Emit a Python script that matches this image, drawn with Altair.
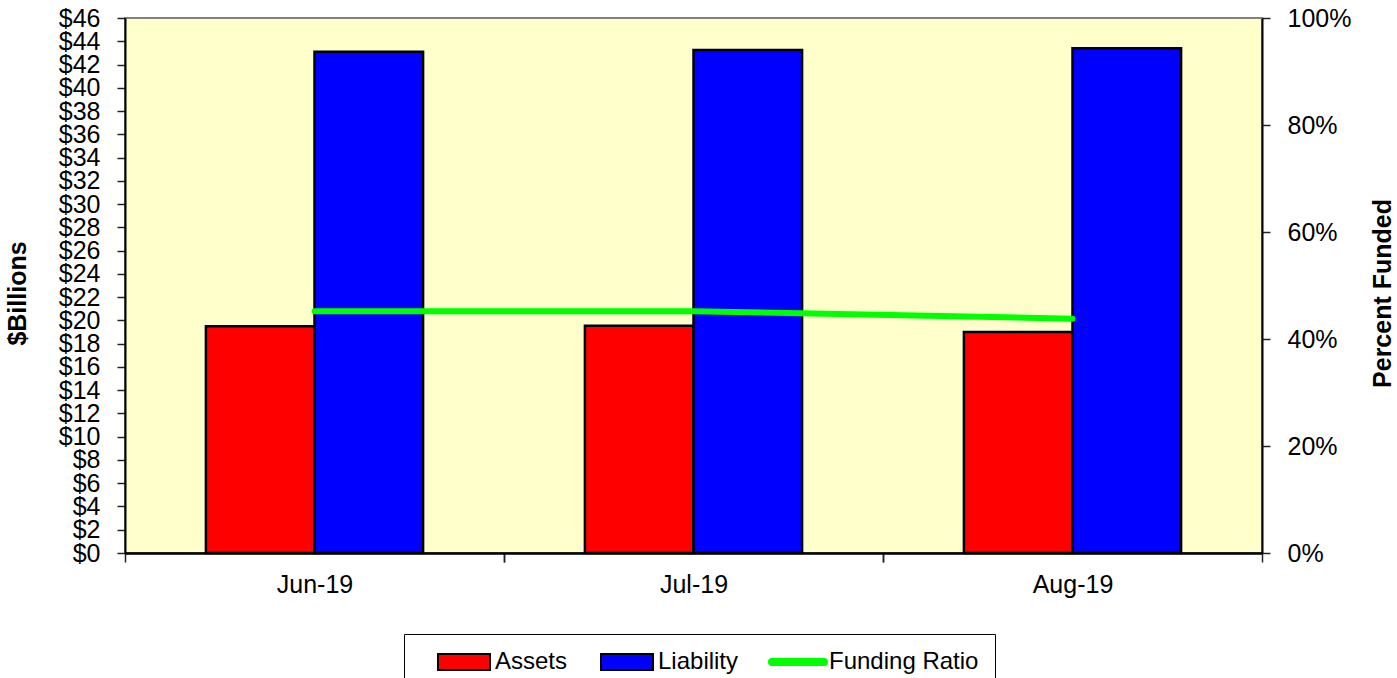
import altair as alt
import pandas as pd

# ---- data ----
months = ["Jun-19", "Jul-19", "Aug-19"]
assets = [19.5, 19.55, 19.0]
liability = [43.1, 43.25, 43.4]
funding_ratio = [0.452, 0.452, 0.438]
series = ["Assets", "Liability", "Funding Ratio"]
colors = ["#FF0000", "#0000FF", "#00FF00"]
left_ticks = list(range(0, 47, 2))
right_ticks = [0, 0.2, 0.4, 0.6, 0.8, 1.0]

bars_df = pd.DataFrame({
    "month": months * 2,
    "series": ["Assets"] * 3 + ["Liability"] * 3,
    "value": assets + liability,
})
line_df = pd.DataFrame({"month": months, "ratio": funding_ratio})

FONT = "Liberation Sans"
RECT = "M-3.25,-1H3.25V1H-3.25Z"
LINE = "M-3.25,-0.375H3.25A0.375,0.375 0 0 1 3.25,0.375H-3.25A0.375,0.375 0 0 1 -3.25,-0.375Z"

STEP = 1137 / 3
P_IN = 0.427
P_OUT = P_IN / 2
HALF_GAP = STEP * P_IN / 2

axis_common = dict(domainColor="black", domainWidth=2, tickColor="#222", tickWidth=1.5)

# main x axis: labels at centre, ticks at left boundaries of each category
x_main = alt.X(
    "month:N", sort=months, title=None,
    scale=alt.Scale(paddingInner=P_IN, paddingOuter=P_OUT),
    axis=alt.Axis(orient="bottom", labelAngle=0, labelFontSize=25, labelFont=FONT,
                  labelColor="black",
                  bandPosition=0, tickOffset=-HALF_GAP, labelOffset=HALF_GAP,
                  tickSize=9, labelPadding=10, **axis_common),
)
# second x axis: only ticks at the right boundaries (gives the final tick)
x_ticks = alt.X(
    "month:N", sort=months, title=None,
    scale=alt.Scale(paddingInner=P_IN, paddingOuter=P_OUT),
    axis=alt.Axis(orient="bottom", labels=False, bandPosition=1, tickOffset=HALF_GAP,
                  tickSize=9, **axis_common),
)

bars = alt.Chart(bars_df).mark_bar(stroke="black", strokeWidth=2.5).encode(
    x=x_main,
    xOffset=alt.XOffset("series:N", sort=series[:2],
                        scale=alt.Scale(paddingInner=0, paddingOuter=0)),
    y=alt.Y("value:Q",
            scale=alt.Scale(domain=[0, 46], nice=False, zero=True),
            axis=alt.Axis(values=left_ticks, labelExpr="'$' + datum.value",
                          title="$Billions", titleFont=FONT, titleFontSize=25,
                          titleFontWeight="bold", titleColor="black", titlePadding=28,
                          titleY=275,
                          labelFont=FONT, labelFontSize=25, labelColor="black",
                          labelOverlap=False, labelPadding=17, tickSize=8,
                          grid=False, **axis_common)),
    color=alt.Color("series:N",
                    scale=alt.Scale(domain=series, range=colors),
                    legend=alt.Legend(
                        title=None, orient="none", legendX=279, legendY=616,
                        direction="horizontal", strokeColor="black", fillColor="white",
                        padding=16,
                        symbolType=alt.ExprRef(f"datum.value === 'Funding Ratio' ? '{LINE}' : '{RECT}'"),
                        symbolSize=256,
                        symbolStrokeColor=alt.ExprRef("datum.value === 'Funding Ratio' ? '#00FF00' : 'black'"),
                        symbolStrokeWidth=2, symbolOffset=32, symbolOpacity=1,
                        labelFont=FONT, labelFontSize=24, labelColor="black",
                        labelOffset=19, columnPadding=15,
                    )),
)

line = alt.Chart(line_df).mark_line(color="#00FF00", strokeWidth=6, strokeCap="round").encode(
    x=x_ticks,
    y=alt.Y("ratio:Q",
            scale=alt.Scale(domain=[0, 1], nice=False),
            axis=alt.Axis(orient="right", values=right_ticks, format=".0%",
                          title="Percent Funded", titleFont=FONT, titleFontSize=25,
                          titleFontWeight="bold", titleColor="black",
                          titleAngle=270, titleBaseline="top", titlePadding=20,
                          titleY=275,
                          labelFont=FONT, labelFontSize=25, labelColor="black",
                          labelPadding=17, tickSize=8, grid=False, **axis_common)),
)

chart = alt.layer(bars, line).resolve_scale(y="independent").resolve_axis(x="independent").properties(
    width=1137, height=535,
    padding={"left": 125, "top": 18, "right": 135, "bottom": 125},
    autosize=alt.AutoSizeParams(type="none"),
    background="white",
).configure_view(fill="#FFFFCC", stroke="#808080", strokeWidth=2)

chart.save("out.html", embed_options={"renderer": "svg", "actions": False})
